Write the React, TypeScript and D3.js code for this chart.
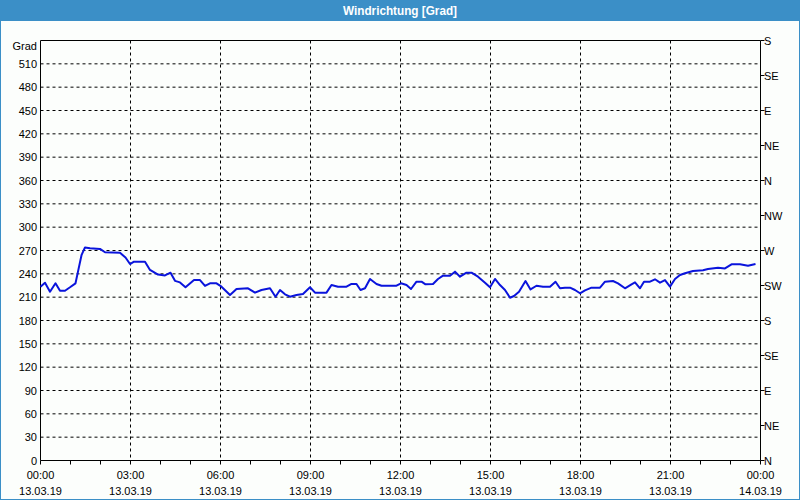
import React from "react";
import * as d3 from "d3";

const title = "Windrichtung [Grad]";
const yUnit = "Grad";
const yTicks = [0, 30, 60, 90, 120, 150, 180, 210, 240, 270, 300, 330, 360, 390, 420, 450, 480, 510];
const compassLabels = ["N", "NE", "E", "SE", "S", "SW", "W", "NW", "N", "NE", "E", "SE", "S"];
const compassStep = 45;
const xTickHours = [0, 3, 6, 9, 12, 15, 18, 21, 24];
const xTimeLabels = ["00:00", "03:00", "06:00", "09:00", "12:00", "15:00", "18:00", "21:00", "00:00"];
const xDateLabels = ["13.03.19", "13.03.19", "13.03.19", "13.03.19", "13.03.19", "13.03.19", "13.03.19", "13.03.19", "14.03.19"];

// minutes since 13.03.19 00:00
const minutes = [
  0, 9, 19, 30, 39, 49, 59, 70, 77, 82, 89, 99, 119, 129, 159, 170, 179, 187, 209, 219,
  235, 249, 260, 269, 279, 290, 307, 319, 329, 339, 352, 362, 379, 392, 415, 429, 442, 459, 470, 479,
  489, 499, 512, 525, 539, 549, 572, 582, 595, 612, 622, 632, 640, 649, 659, 672, 682, 712, 721, 732,
  741, 752, 762, 770, 785, 795, 805, 819, 829, 839, 852, 862, 875, 889, 899, 909, 919, 929, 939, 947,
  957, 970, 980, 992, 1005, 1019, 1030, 1039, 1049, 1059, 1069, 1079, 1089, 1102, 1119, 1129, 1145, 1155, 1169, 1182,
  1189, 1199, 1207, 1219, 1229, 1239, 1249, 1259, 1269, 1279, 1289, 1305, 1325, 1335, 1355, 1369, 1382, 1399, 1415, 1430,
];
const direction = [
  223.5, 228.6, 217, 227.8, 218.3, 218.3, 222.7, 227.8, 249, 264, 274, 273, 272, 267.7, 267, 261, 252.6, 255.6, 255.6, 245,
  239, 238, 241.5, 231, 229, 222.7, 232, 232, 224.4, 227.8, 227.8, 223.5, 212.8, 220.5, 221.4, 215.8, 219.2, 221.4, 210.6, 219.2,
  213.7, 210.6, 212.8, 214, 222.7, 215.8, 215.8, 225.6, 223.5, 223.5, 227, 227, 219.2, 221.4, 233.4, 227, 224.7, 224.7, 227.8, 225.6,
  220.5, 229.9, 229.9, 226.5, 227, 233.4, 237.6, 237.6, 242.8, 236.3, 241.5, 241.5, 236.3, 228.6, 222.7, 233.4, 225.6, 219.2, 209.3, 211.5,
  217, 230.8, 220, 224.7, 223.5, 223.5, 229.9, 221.4, 222.2, 222.2, 219.2, 215, 218.8, 222.2, 222.2, 229.9, 230.8, 227.8, 221.4, 226.5,
  229, 221.4, 229.9, 229.9, 233, 228.6, 232, 223.5, 233.4, 238.5, 240.7, 243.6, 244.5, 246.2, 247.9, 247, 252.2, 252.2, 250.4, 252.6,
];

const W = 800;
const H = 500;
const L = 40.5, R = 760.5, T = 40.5, B = 460.5;
const blue = "#3b8fc7";
const tickFont = "'Liberation Sans', Arial, sans-serif";

export default function App() {
  const x = d3.scaleLinear().domain([0, 1440]).range([L, R]);
  const y = d3.scaleLinear().domain([0, 540]).range([B, T]);
  const pts: [number, number][] = minutes.map((m, i) => [m, direction[i]]);
  const line = d3.line<[number, number]>().x((d) => x(d[0])).y((d) => y(d[1]));
  const hourTicks = d3.range(0, 25);
  const compassValues = compassLabels.map((_, i) => i * compassStep);

  return (
    <svg width={W} height={H} style={{ position: "absolute", left: 0, top: 0, display: "block" }}>
      <rect x={0} y={0} width={W} height={H} fill="#fcfefc" />
      <rect x={0.5} y={0.5} width={W - 1} height={H - 1} fill="none" stroke={blue} />
      <rect x={0} y={0} width={W} height={21} fill={blue} />
      <text
        x={W / 2}
        y={15}
        textAnchor="middle"
        fill="#ffffff"
        fontFamily="'Liberation Sans', sans-serif"
        fontWeight="bold"
        fontSize={12}
        textLength={114}
        lengthAdjust="spacingAndGlyphs"
      >
        {title}
      </text>

      {/* horizontal grid */}
      {yTicks.filter((v) => v > 0).map((v) => (
        <line key={"hg" + v} x1={L} x2={R} y1={y(v)} y2={y(v)} stroke="#000" strokeWidth={1} strokeDasharray="3,3" />
      ))}
      {/* vertical grid */}
      {xTickHours.filter((h) => h > 0 && h < 24).map((h) => (
        <line key={"vg" + h} x1={x(h * 60)} x2={x(h * 60)} y1={T} y2={B} stroke="#000" strokeWidth={1} strokeDasharray="3,3" />
      ))}

      {/* frame */}
      <line x1={L} x2={R} y1={T} y2={T} stroke="#000" />
      <line x1={L} x2={L} y1={T} y2={B} stroke="#000" />
      <line x1={R} x2={R} y1={T} y2={B} stroke="#000" />
      <line x1={L} x2={R} y1={B} y2={B} stroke="#000" />

      {/* x minor ticks */}
      {hourTicks.map((h) => (
        <line key={"xt" + h} x1={x(h * 60)} x2={x(h * 60)} y1={B} y2={B + 4} stroke="#000" />
      ))}
      {/* right ticks */}
      {compassValues.map((v) => (
        <line key={"rt" + v} x1={R} x2={R + 4} y1={y(v)} y2={y(v)} stroke="#000" />
      ))}

      {/* data line */}
      <path d={line(pts) || ""} fill="none" stroke="#0a14dc" strokeWidth={2} strokeLinejoin="round" />

      {/* left labels */}
      <text x={37} y={50} textAnchor="end" fontFamily={tickFont} fontSize={11} fill="#000">{yUnit}</text>
      {yTicks.map((v) => (
        <text key={"yl" + v} x={37} y={y(v) + 4} textAnchor="end" fontFamily={tickFont} fontSize={11} fill="#000">
          {v}
        </text>
      ))}
      {/* right labels */}
      {compassLabels.map((lab, i) => (
        <text key={"rl" + i} x={764} y={y(compassValues[i]) + 4} fontFamily={tickFont} fontSize={11} fill="#000">
          {lab}
        </text>
      ))}
      {/* x labels */}
      {xTickHours.map((h, i) => (
        <g key={"xl" + i}>
          <text x={x(h * 60)} y={479} textAnchor="middle" fontFamily={tickFont} fontSize={11} fill="#000">
            {xTimeLabels[i]}
          </text>
          <text x={x(h * 60)} y={495} textAnchor="middle" fontFamily={tickFont} fontSize={11} fill="#000">
            {xDateLabels[i]}
          </text>
        </g>
      ))}
    </svg>
  );
}
